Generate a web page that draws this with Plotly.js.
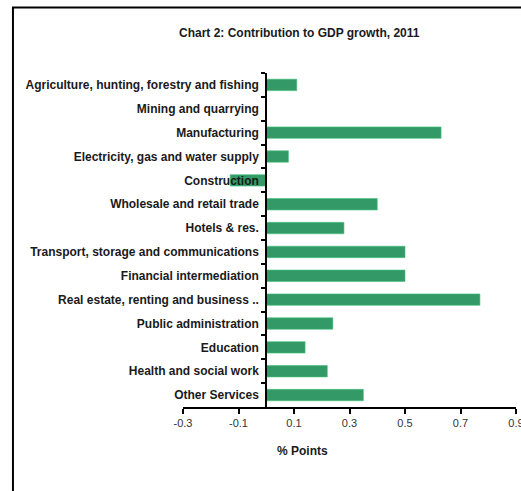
<!DOCTYPE html>
<html>
<head>
<meta charset="utf-8">
<script src="https://cdn.plot.ly/plotly-3.0.1.min.js"></script>
<style>html,body{margin:0;padding:0;background:#fff;}#chart{width:521px;height:491px;}</style>
</head>
<body>
<div id="chart"></div>
<script>
const categories = [
  "Agriculture, hunting, forestry and fishing",
  "Mining and quarrying",
  "Manufacturing",
  "Electricity, gas and water supply",
  "Construction",
  "Wholesale and retail trade",
  "Hotels & res.",
  "Transport, storage and communications",
  "Financial intermediation",
  "Real estate, renting and business ..",
  "Public administration",
  "Education",
  "Health and social work",
  "Other Services"
];
const values = [0.11, 0.0, 0.63, 0.08, -0.13, 0.40, 0.28, 0.50, 0.50, 0.77, 0.24, 0.14, 0.22, 0.35];
const xTicks = [-0.3, -0.1, 0.1, 0.3, 0.5, 0.7, 0.9];
const xTickText = ["-0.3", "-0.1", "0.1", "0.3", "0.5", "0.7", "0.9"];
const chartTitle = "Chart 2: Contribution to GDP growth, 2011";
const xTitle = "% Points";

const L = 182.7, R = 516, T = 73, B = 407;
const W = 521, H = 491;
const pw = R - L, ph = B - T;
const px = v => (v - L) / pw;
const py = v => (B - v) / ph;
const xMin = -0.3, xMax = 0.9;

const trace = {
  type: 'bar',
  orientation: 'h',
  y: categories,
  x: values,
  marker: {color: '#339966', line: {color: '#45c47f', width: 0.6}},
  width: 0.48,
  hoverinfo: 'x+y'
};

const layout = {
  width: W, height: H,
  margin: {l: L, r: W - R, t: T, b: H - B, pad: 0},
  paper_bgcolor: '#ffffff',
  plot_bgcolor: '#ffffff',
  showlegend: false,
  font: {family: 'Liberation Sans, Arial, sans-serif', size: 11, color: '#000'},
  xaxis: {
    range: [xMin, xMax],
    tickvals: xTicks,
    ticktext: xTickText,
    showgrid: false,
    zeroline: false,
    showline: true,
    linecolor: '#000',
    linewidth: 2,
    ticks: 'outside',
    ticklen: 5,
    tickwidth: 2,
    tickcolor: '#000',
    ticklabeloverflow: 'allow',
    tickfont: {size: 11, color: '#333'},
    fixedrange: true
  },
  yaxis: {
    type: 'category',
    autorange: 'reversed',
    anchor: 'free',
    position: (0 - xMin) / (xMax - xMin),
    showgrid: false,
    zeroline: false,
    showline: true,
    linecolor: '#000',
    linewidth: 2,
    ticks: 'outside',
    tickson: 'boundaries',
    ticklen: 4,
    tickwidth: 2,
    tickcolor: '#000',
    ticklabelstandoff: 4,
    ticklabeloverflow: 'allow',
    tickfont: {size: 12, color: '#1a1a1a', family: 'Liberation Sans, Arial, sans-serif', weight: 'bold'},
    fixedrange: true
  },
  shapes: [{
    type: 'rect', xref: 'paper', yref: 'paper',
    x0: px(12.5), x1: px(600), y0: py(600), y1: py(7.5),
    line: {color: '#000', width: 2}, fillcolor: 'rgba(0,0,0,0)', layer: 'below'
  }],
  annotations: [
    {text: '<b>' + chartTitle + '</b>', xref: 'paper', yref: 'paper', x: px(299), y: py(33),
     showarrow: false, xanchor: 'center', yanchor: 'middle', font: {size: 12, color: '#1a1a1a'}},
    {text: '<b>' + xTitle + '</b>', xref: 'paper', yref: 'paper', x: px(302), y: py(451),
     showarrow: false, xanchor: 'center', yanchor: 'middle', font: {size: 12, color: '#1a1a1a'}}
  ]
};

Plotly.newPlot('chart', [trace], layout, {displayModeBar: false, staticPlot: true});
</script>
</body>
</html>
